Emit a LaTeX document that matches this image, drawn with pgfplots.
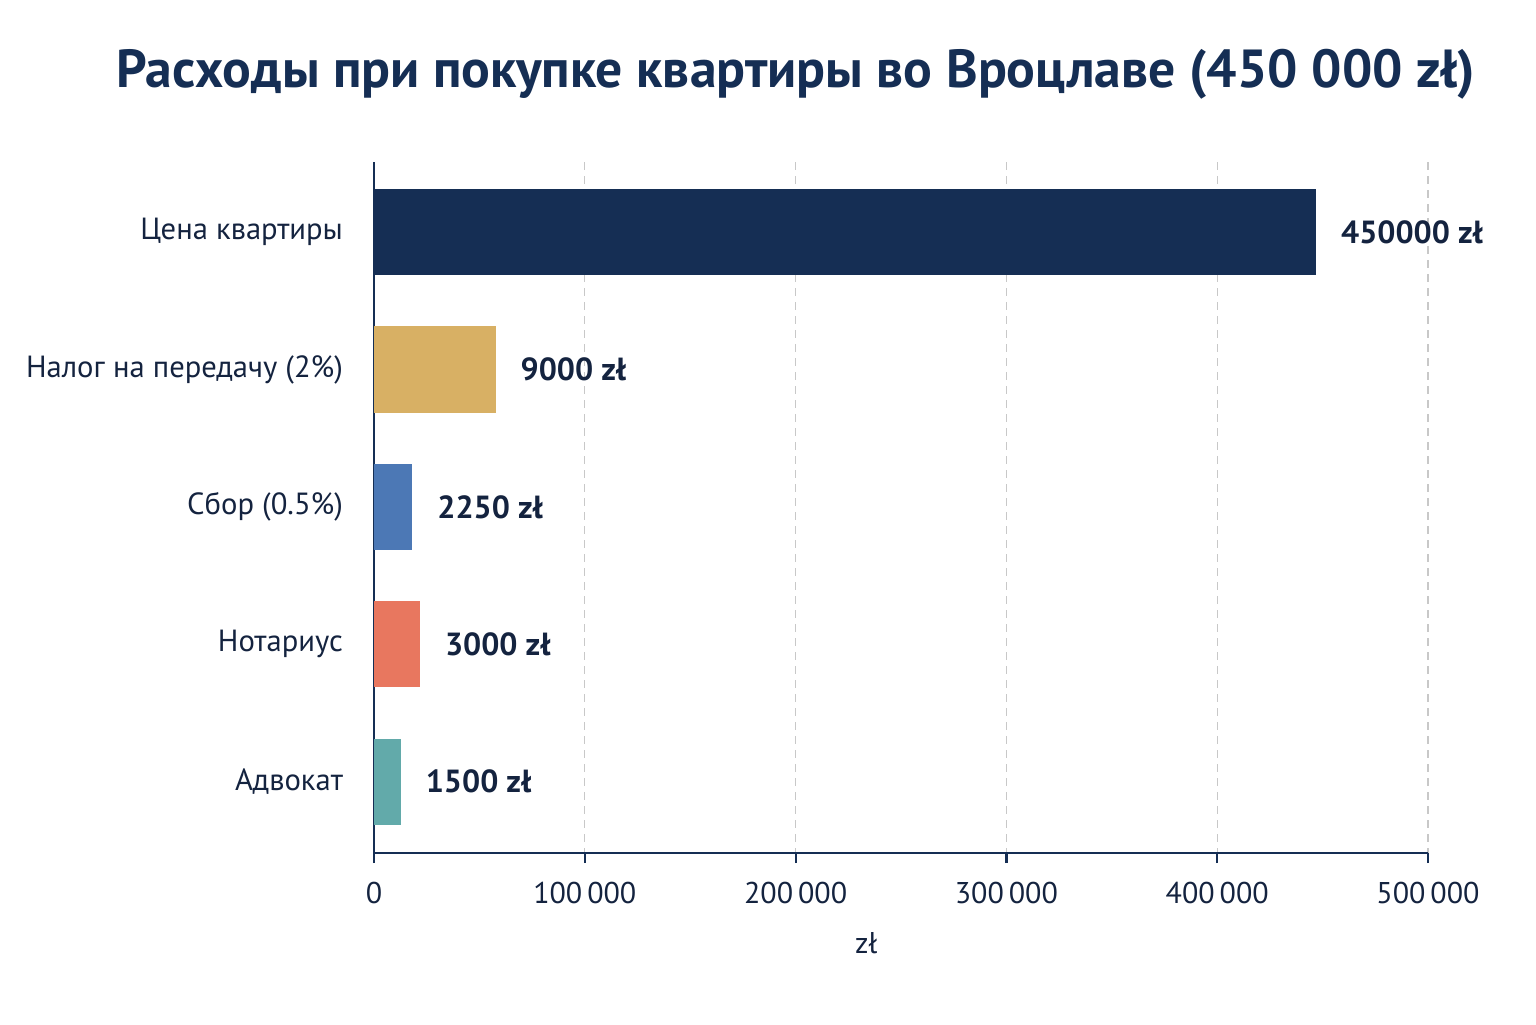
\documentclass[border=0pt]{standalone}
\usepackage{pgfplots}
\pgfplotsset{compat=1.18}
\usepackage{fontspec}
\setmainfont{PT Sans}
\definecolor{navy}{HTML}{152E54}
\definecolor{txt}{HTML}{14233F}
\definecolor{gold}{HTML}{D8B064}
\definecolor{blu}{HTML}{4C78B5}
\definecolor{coral}{HTML}{E8775F}
\definecolor{teal}{HTML}{62AAAA}
\definecolor{gridc}{HTML}{C8C8C8}
\begin{document}
\begin{tikzpicture}
\path[use as bounding box] (0pt,0pt) rectangle (768pt,-512pt);
\node[text=navy, font=\fontsize{26.8}{30}\selectfont\bfseries] at (398pt,-37pt) {Расходы при покупке квартиры во Вроцлаве (450 000 zł)};
\begin{axis}[
  at={(187pt,-426.5pt)}, anchor=south west,
  scale only axis, width=527pt, height=345.5pt,
  xbar, bar width=0.627, bar shift=0pt,
  xmin=0, xmax=500000,
  ymin=-0.51, ymax=4.52, y dir=reverse,
  ytick={0,1,2,3,4},
  yticklabels={Цена квартиры, Налог на передачу (2\%), Сбор (0.5\%), Нотариус, Адвокат},
  xtick={0,100000,200000,300000,400000,500000},
  xticklabels={0, 100\thinspace000, 200\thinspace000, 300\thinspace000, 400\thinspace000, 500\thinspace000},
  scaled x ticks=false,
  axis x line*=bottom, axis y line*=left,
  axis line style={navy, line width=1.1pt},
  x axis line style={-}, y axis line style={-},
  major tick length=5pt,
  xtick style={navy, line width=1.1pt},
  ytick style={draw=none},
  tick align=outside,
  ticklabel style={text=txt, font=\fontsize{15}{18}\selectfont},
  yticklabel style={xshift=-7pt, font=\fontsize{15.3}{18}\selectfont},
  xticklabel style={yshift=-6pt},
  xmajorgrids, grid style={gridc, dash pattern=on 4pt off 3pt, line width=0.6pt},
  xlabel={zł}, xlabel style={text=txt, font=\fontsize{15}{18}\selectfont, at={(axis description cs:0.467,0)}, anchor=north, yshift=-36pt},
  point meta=explicit symbolic,
  nodes near coords,
  nodes near coords style={anchor=west, xshift=9pt, text=txt, font=\fontsize{16}{19}\selectfont\bfseries},
  clip=false,
]
\addplot[fill=navy, draw=none] coordinates {(446900,0) [450000 zł]};
\addplot[fill=gold, draw=none] coordinates {(57700,1) [9000 zł]};
\addplot[fill=blu, draw=none] coordinates {(18200,2) [2250 zł]};
\addplot[fill=coral, draw=none] coordinates {(21800,3) [3000 zł]};
\addplot[fill=teal, draw=none] coordinates {(12700,4) [1500 zł]};
\end{axis}
\end{tikzpicture}
\end{document}
